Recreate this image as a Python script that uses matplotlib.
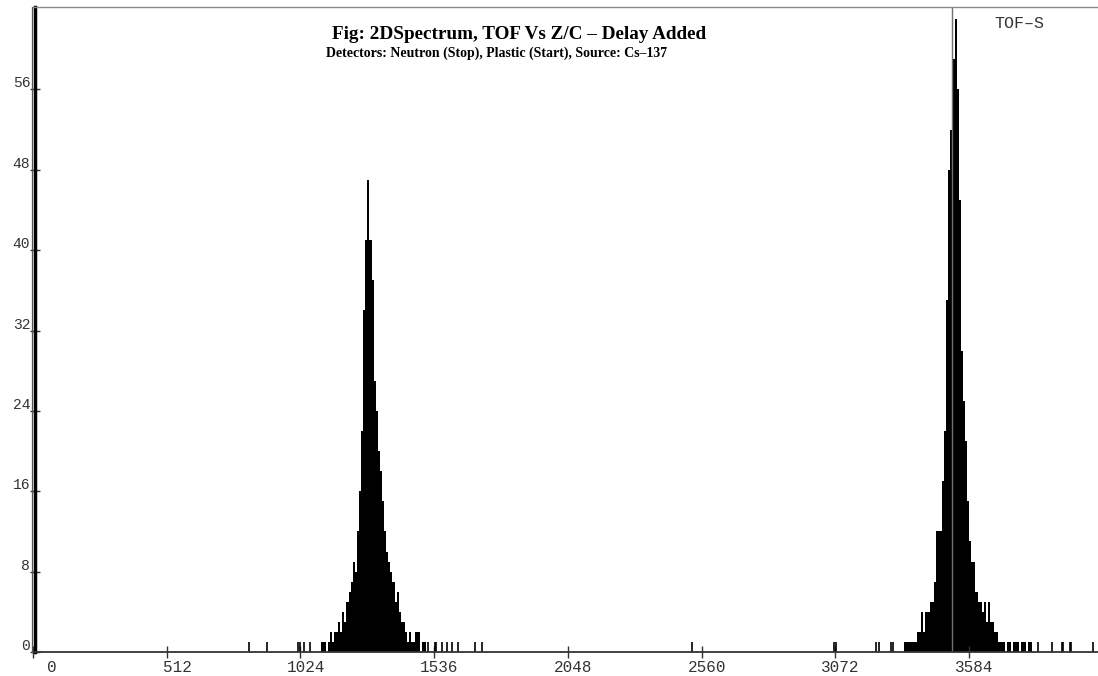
import matplotlib
matplotlib.use("Agg")
import matplotlib.pyplot as plt
import matplotlib.transforms as mtransforms
from matplotlib.lines import Line2D
import numpy as np

# ---------------- data ----------------
BIN = 8  # channels per bin

peak1_start = 1104
peak1_counts = [1, 1, 0, 1, 2, 1, 2, 2, 3, 2, 4, 3, 5, 6, 7, 9, 8, 12, 16, 22,
                34, 41, 47, 41, 37, 27, 24, 20, 18, 15, 12, 10, 9, 8, 7, 5,
                6, 4, 3, 3, 2, 1, 2, 1, 1, 2, 2, 0, 1, 1]

peak2_start = 3328
peak2_counts = [0, 1, 1, 1, 1, 1, 1, 2, 2, 4, 2, 4, 4, 5, 5, 7, 12, 12, 12, 17,
                22, 35, 48, 52, 59, 63, 56, 45, 30, 25, 21, 15, 11, 9, 9, 6,
                5, 5, 4, 5, 3, 5, 3, 3, 2, 2, 1, 1, 1, 0, 1, 1, 0, 1, 1, 1,
                0, 1, 1, 0, 1, 1]

stray_channels = [827, 897, 1015, 1023, 1038, 1061, 1512, 1539, 1543, 1566, 1585,
                  1604, 1627, 1692, 1719, 2523, 3067, 3075, 3227, 3239, 3285,
                  3293, 3848, 3901, 3940, 3944, 3970, 3974, 4058]
stray_counts = [1] * len(stray_channels)

cursor_channel = 3518

x_ticks = [0, 512, 1024, 1536, 2048, 2560, 3072, 3584]
y_ticks = [0, 8, 16, 24, 32, 40, 48, 56]

title = "Fig: 2DSpectrum, TOF Vs Z/C \u2013 Delay Added"
subtitle = "Detectors: Neutron (Stop), Plastic (Start), Source: Cs\u2013137"
corner_label = "TOF\u2013S"

# ---------------- figure ----------------
W, H = 1098, 676
fig = plt.figure(figsize=(W / 100, H / 100), dpi=100)
ax_left, ax_right, ax_top, ax_bottom = 33, 1098, 7, 652
ax = fig.add_axes([ax_left / W, (H - ax_bottom) / H,
                   (ax_right - ax_left) / W, (ax_bottom - ax_top) / H])

ax.set_xlim(0, 4077)
ax.set_ylim(0, 64.2)

p1_x = peak1_start + BIN * np.arange(len(peak1_counts)) + BIN / 2
p2_x = peak2_start + BIN * np.arange(len(peak2_counts)) + BIN / 2
ax.bar(p1_x, peak1_counts, width=BIN, color="black", linewidth=0)
ax.bar(p2_x, peak2_counts, width=BIN, color="black", linewidth=0)
ax.vlines(stray_channels, 0, stray_counts, colors="black", linewidth=1.2)
ax.vlines([cursor_channel], 0, 64.2, colors="#707070", linewidth=1.0)

# spines
ax.spines["right"].set_visible(False)
ax.spines["top"].set_color("#8a8a8a")
ax.spines["top"].set_linewidth(1.0)
ax.spines["bottom"].set_color("#333333")
ax.spines["bottom"].set_linewidth(1.3)
ax.spines["left"].set_color("black")
ax.spines["left"].set_linewidth(2.5)
ax.spines["left"].set_position(("outward", -1.5))
fig.add_artist(Line2D([31.5 / W, 31.5 / W], [(H - 652) / H, (H - 7) / H],
                      transform=fig.transFigure, color="#555555", linewidth=0.9))

mono = "Liberation Mono"
ax.set_xticks(x_ticks)
ax.set_xticklabels([str(v) for v in x_ticks], fontfamily=mono, fontsize=11.5,
                   color="#333333")
ax.set_yticks(y_ticks)
ax.set_yticklabels([str(v) for v in y_ticks], fontfamily=mono, fontsize=10.5,
                   color="#333333")
ax.tick_params(axis="x", direction="inout", length=9, width=1.0, pad=1,
               color="#333333")
ax.tick_params(axis="y", direction="inout", length=7, width=1.0, pad=0,
               color="#333333")

x_offsets = [19, 11, 6, 5, 5, 5, 5, 5]
for lab, off in zip(ax.get_xticklabels(), x_offsets):
    lab.set_transform(lab.get_transform() +
                      mtransforms.ScaledTranslation(off / 100, 0, fig.dpi_scale_trans))
for lab in ax.get_yticklabels():
    lab.set_verticalalignment("bottom")
    lab.set_transform(lab.get_transform() +
                      mtransforms.ScaledTranslation(0, -1 / 100, fig.dpi_scale_trans))

serif = "Liberation Serif"
fig.text(519 / W, 1 - 39 / H, title, ha="center", va="baseline",
         fontfamily=serif, fontweight="bold", fontsize=13.8, color="black")
fig.text(497 / W, 1 - 57 / H, subtitle, ha="center", va="baseline",
         fontfamily=serif, fontweight="bold", fontsize=10.0, color="black")
fig.text(1019 / W, 1 - 28 / H, corner_label, ha="center", va="baseline",
         fontfamily=mono, fontsize=12, color="#333333")

fig.savefig("out.png", dpi=100)
